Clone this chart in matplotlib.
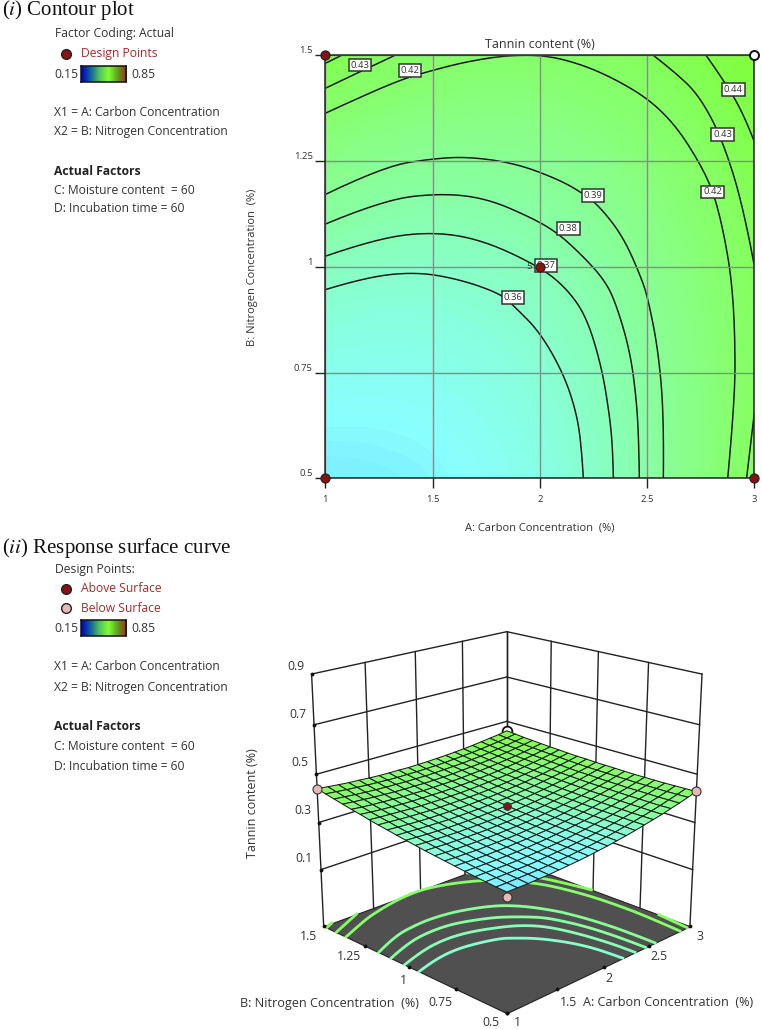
import numpy as np
import matplotlib
matplotlib.use('Agg')
from matplotlib import pyplot as plt
from matplotlib.colors import LinearSegmentedColormap, Normalize

plt.rcParams['font.family'] = ['Open Sans', 'DejaVu Sans']
plt.rcParams['mathtext.fontset'] = 'stix'

carbon = [1 + 0.1 * i for i in range(21)]
nitrogen = [0.5 + 0.05 * i for i in range(21)]
carbon_ticks = [1, 1.5, 2, 2.5, 3]
nitrogen_ticks = [0.5, 0.75, 1, 1.25, 1.5]
nitrogen_ticklabels = ['0.5', '0.75', '1', '1.25', '1.5']
tannin_ticks = [0.1, 0.3, 0.5, 0.7, 0.9]
tannin_floor = -0.147

# tannin content x1000, one row per nitrogen value, one column per carbon value
tannin_table = [
    [319, 319, 319, 321, 322, 325, 328, 331, 335, 340, 345, 351, 357, 364, 372, 380, 388, 398, 407, 418, 429],
    [322, 322, 323, 324, 325, 327, 330, 333, 337, 341, 346, 352, 358, 365, 372, 380, 388, 397, 407, 417, 428],
    [326, 326, 326, 327, 328, 330, 333, 336, 339, 343, 348, 353, 359, 366, 373, 380, 389, 397, 406, 416, 427],
    [330, 330, 330, 330, 331, 333, 335, 338, 341, 345, 350, 355, 361, 367, 374, 381, 389, 398, 407, 416, 426],
    [335, 334, 334, 334, 335, 336, 338, 341, 344, 348, 352, 357, 362, 368, 375, 382, 390, 398, 407, 416, 426],
    [340, 339, 338, 338, 339, 340, 342, 344, 347, 350, 354, 359, 364, 370, 376, 383, 391, 399, 407, 416, 426],
    [345, 343, 343, 342, 343, 344, 345, 347, 350, 353, 357, 361, 366, 372, 378, 385, 392, 400, 408, 417, 426],
    [350, 348, 347, 347, 347, 348, 349, 351, 353, 356, 360, 364, 369, 374, 380, 386, 393, 401, 409, 418, 427],
    [355, 354, 352, 352, 352, 352, 353, 355, 357, 360, 363, 367, 371, 377, 382, 388, 395, 402, 410, 419, 428],
    [361, 359, 358, 357, 356, 357, 358, 359, 361, 363, 366, 370, 374, 379, 385, 390, 397, 404, 412, 420, 429],
    [367, 365, 363, 362, 361, 361, 362, 363, 365, 367, 370, 373, 377, 382, 387, 393, 399, 406, 413, 421, 430],
    [373, 371, 369, 368, 367, 366, 367, 368, 369, 371, 374, 377, 381, 385, 390, 396, 402, 408, 415, 423, 432],
    [380, 377, 375, 373, 372, 372, 372, 373, 374, 376, 378, 381, 385, 389, 393, 399, 404, 411, 418, 425, 433],
    [386, 384, 381, 379, 378, 377, 377, 378, 379, 380, 382, 385, 388, 392, 397, 402, 407, 414, 420, 428, 435],
    [393, 390, 388, 386, 384, 383, 383, 383, 384, 385, 387, 390, 393, 396, 400, 405, 411, 417, 423, 430, 438],
    [401, 397, 394, 392, 390, 389, 389, 389, 389, 390, 392, 394, 397, 400, 404, 409, 414, 420, 426, 433, 440],
    [408, 404, 401, 399, 397, 395, 395, 394, 395, 396, 397, 399, 402, 405, 409, 413, 418, 423, 429, 436, 443],
    [416, 412, 409, 406, 404, 402, 401, 401, 400, 401, 402, 404, 407, 410, 413, 417, 422, 427, 433, 439, 446],
    [424, 420, 416, 413, 411, 409, 408, 407, 407, 407, 408, 410, 412, 414, 418, 421, 426, 431, 436, 443, 449],
    [432, 428, 424, 421, 418, 416, 414, 413, 413, 413, 414, 415, 417, 420, 423, 426, 430, 435, 440, 446, 453],
    [441, 436, 432, 428, 426, 423, 421, 420, 420, 419, 420, 421, 423, 425, 428, 431, 435, 440, 445, 450, 457],
]

# contour lines, (carbon, nitrogen) pairs
c36_a = [1, 1.193, 1.426, 1.628, 1.814, 1.876, 2.0, 2.11, 2.172, 2.195, 2.203]
c36_b = [0.946, 0.976, 0.988, 0.970, 0.937, 0.909, 0.846, 0.748, 0.654, 0.57, 0.5]
c37_a = [1, 1.239, 1.503, 1.736, 2.0, 2.125, 2.218, 2.288, 2.325, 2.34, 2.343]
c37_b = [1.025, 1.067, 1.083, 1.063, 1.0, 0.949, 0.882, 0.764, 0.65, 0.57, 0.5]
c38_a = [1, 1.27, 1.535, 1.752, 1.97, 2.086, 2.203, 2.296, 2.35, 2.42, 2.451, 2.462, 2.464]
c38_b = [1.101, 1.158, 1.174, 1.162, 1.114, 1.079, 1.024, 0.972, 0.921, 0.803, 0.685, 0.58, 0.5]
c39_a = [1, 1.27, 1.503, 1.674, 1.892, 2.094, 2.203, 2.28, 2.389, 2.475, 2.506, 2.552, 2.579, 2.576]
c39_b = [1.171, 1.237, 1.256, 1.26, 1.244, 1.205, 1.173, 1.142, 1.071, 0.972, 0.921, 0.803, 0.646, 0.5]
c42_a = [1, 1.115, 1.348, 1.503, 1.659, 1.845, 2.032, 2.203, 2.358, 2.514, 2.638, 2.747, 2.809, 2.855, 2.894, 2.91, 2.91, 2.876]
c42_b = [1.363, 1.39, 1.442, 1.465, 1.485, 1.5, 1.5, 1.477, 1.442, 1.394, 1.331, 1.244, 1.177, 1.087, 0.972, 0.843, 0.685, 0.5]
c43_left_a = [1, 1.115, 1.325]
c43_left_b = [1.422, 1.45, 1.5]
c43_right_a = [2.529, 2.638, 2.747, 2.852, 2.949, 2.998]
c43_right_b = [1.5, 1.457, 1.402, 1.3, 1.142, 1.008]
c43_low_a = [3, 2.964]
c43_low_b = [0.654, 0.5]
c44_left_a = [1, 1.076]
c44_left_b = [1.481, 1.5]
c44_right_a = [2.775, 2.856, 2.949, 3.0]
c44_right_b = [1.5, 1.442, 1.363, 1.296]

contours = [
    (c36_a, c36_b, 0.36), (c37_a, c37_b, 0.37), (c38_a, c38_b, 0.38), (c39_a, c39_b, 0.39),
    (c42_a, c42_b, 0.42), (c43_left_a, c43_left_b, 0.43), (c43_right_a, c43_right_b, 0.43),
    (c43_low_a, c43_low_b, 0.43), (c44_left_a, c44_left_b, 0.44), (c44_right_a, c44_right_b, 0.44),
]

label_text = ['0.43', '0.42', '0.39', '0.38', '0.37', '0.36', '0.44', '0.43', '0.42']
label_a = [1.162, 1.395, 2.249, 2.133, 2.03, 1.876, 2.902, 2.852, 2.806]
label_b = [1.477, 1.464, 1.168, 1.09, 1.003, 0.928, 1.42, 1.312, 1.177]

# design points
dp_a = [1, 1, 3, 2]
dp_b = [1.5, 0.5, 0.5, 1]
dp_z = [0.44, 0.30, 0.43, 0.37]
dp_3d_colors = ['#e8b8b8', '#e8b8b8', '#e8b8b8', '#8b1010']
dp_white = (3, 1.5, 0.458)

RED = '#8b1010'
INK = '#333333'
surface_cmap = LinearSegmentedColormap.from_list('surface', [
    (0, '#0000c8'), (0.235, '#78e8ff'), (0.255, '#88ffff'), (0.29, '#88ffd8'), (0.33, '#88ffa0'),
    (0.37, '#88ff78'), (0.43, '#80ff40'), (0.6, '#80c030'), (1, '#a02010')])
norm = Normalize(0.15, 0.85)
legend_cmap = LinearSegmentedColormap.from_list('legend', [
    '#0000c0', '#1060a0', '#50c060', '#80ff30', '#60a020', '#a03010'])

W, H = 762, 1029
fig = plt.figure(figsize=(W / 100, H / 100), dpi=100)


def put(px, py, s, **kw):
    kw.setdefault('fontsize', 8.7)
    kw.setdefault('color', INK)
    kw.setdefault('va', 'center')
    return fig.text(px / W, 1 - py / H, s, **kw)


def box(x0, y0, x1, y1):
    return [x0 / W, 1 - y1 / H, (x1 - x0) / W, (y1 - y0) / H]


def rounded(xs, ys, steps=8):
    # quadratic bezier through midpoints so the read points do not show as corners
    pts = np.column_stack([xs, ys])
    if len(pts) < 3:
        return pts[:, 0], pts[:, 1]
    mids = (pts[:-1] + pts[1:]) / 2
    mids[0], mids[-1] = pts[0], pts[-1]
    t = np.linspace(0, 1, steps)[:, None]
    out = [(1 - t) ** 2 * mids[i] + 2 * t * (1 - t) * pts[i + 1] + t ** 2 * mids[i + 1] for i in range(len(mids) - 1)]
    out = np.vstack(out)
    return out[:, 0], out[:, 1]


def legend_block(y_color, y_x1, y_x2, y_head, y_c, y_d):
    ax = fig.add_axes(box(81, y_color - 8, 126, y_color + 8))
    ax.imshow(np.linspace(0, 1, 60)[None, :], aspect='auto', cmap=legend_cmap)
    ax.set_xticks([])
    ax.set_yticks([])
    for s in ax.spines.values():
        s.set_linewidth(1.1)
        s.set_color('#111111')
    put(54, y_color, '0.15')
    put(131, y_color, '0.85')
    put(54, y_x1, 'X1 = A: Carbon Concentration')
    put(54, y_x2, 'X2 = B: Nitrogen Concentration')
    put(54, y_head, 'Actual Factors', fontweight='bold', color='#222222')
    put(54, y_c, 'C: Moisture content  = 60')
    put(54, y_d, 'D: Incubation time = 60')


# (i) contour plot
put(2, 10, r'($\mathit{i}$) Contour plot', family='Liberation Serif', fontsize=15, color='#111111')
put(55, 34, 'Factor Coding: Actual')
put(81, 54, 'Design Points', color='#a52a2a')
legend_block(74, 113, 132, 171, 190, 209)

ax = fig.add_axes(box(325.3, 55.3, 754.3, 478.3))
ax.imshow(np.array(tannin_table) / 1000, origin='lower', cmap=surface_cmap, norm=norm, aspect='auto',
          interpolation='bicubic', extent=(0.95, 3.05, 0.475, 1.525), zorder=0)
ax.set_xlim(1, 3)
ax.set_ylim(0.5, 1.5)
ax.set_xticks(carbon_ticks, [str(v) for v in carbon_ticks])
ax.set_yticks(nitrogen_ticks, nitrogen_ticklabels)
ax.tick_params(length=7, width=1, labelsize=6.8, color='#222222', labelcolor=INK, pad=2)
ax.tick_params(axis='x', pad=5)
for t in ax.get_yticklabels():
    t.set_va('bottom')
ax.grid(color='#8a8a8a', lw=1, zorder=1)
ax.set_axisbelow(False)
for s in ax.spines.values():
    s.set_linewidth(1.1)
    s.set_color('#222222')
    s.set_zorder(3)
for xs, ys, level in contours:
    ax.plot(*rounded(xs, ys), color='#111111', lw=1.05, zorder=2)
for s, a, b in zip(label_text, label_a, label_b):
    ax.text(a, b, s, fontsize=6.8, ha='center', va='center', color=INK, zorder=4,
            bbox=dict(boxstyle='square,pad=0.2', fc='white', ec='#333333', lw=1.1))
ax.text(1.95, 1.0, '5', fontsize=6.8, ha='center', va='center', color=INK, zorder=4)
ax.plot(dp_a, dp_b, 'o', ms=6.5, mfc=RED, mec='#222222', mew=0.9, zorder=5, clip_on=False)
ax.plot(dp_white[0], dp_white[1], 'o', ms=6.5, mfc='white', mec='#111111', mew=1.4, zorder=5, clip_on=False)

put(540, 44, 'Tannin content (%)', ha='center', fontsize=9)
put(540, 528, 'A: Carbon Concentration  (%)', ha='center', fontsize=8)
put(253, 267, 'B: Nitrogen Concentration  (%)', ha='center', rotation=90, fontsize=8)

# legend dot, drawn in a full figure overlay
over = fig.add_axes([0, 0, 1, 1], facecolor='none')
over.set_xlim(0, W)
over.set_ylim(H, 0)
over.axis('off')
over.plot([66], [54], 'o', ms=7, mfc=RED, mec='#222222', mew=1)
over.plot([66], [589], 'o', ms=7, mfc=RED, mec='#222222', mew=1)
over.plot([66], [608], 'o', ms=7, mfc='#e8b8b8', mec='#222222', mew=1)

# (ii) response surface
put(2, 548, r'($\mathit{ii}$) Response surface curve', family='Liberation Serif', fontsize=15, color='#111111')
put(55, 569, 'Design Points:')
put(81, 589, 'Above Surface', color='#a52a2a')
put(81, 608, 'Below Surface', color='#a52a2a')
legend_block(628, 667, 688, 726, 747, 766)

ax3 = fig.add_axes(box(214, 595, 788, 1025), projection='3d', computed_zorder=False)
ax3.set_axis_off()
ax3.patch.set_alpha(0)
ax3.view_init(elev=19.5, azim=-135)
ax3.set_proj_type('persp', focal_length=0.6)
ax3.set_box_aspect((1, 1, 1.0), zoom=1.045)
ax3.set_xlim(1, 3)
ax3.set_ylim(0.5, 1.5)
ax3.set_zlim(tannin_floor, 0.9)

LINE = dict(color='#222222', lw=1.0, zorder=1)
for a in carbon_ticks:
    ax3.plot([a, a], [1.5, 1.5], [tannin_floor, 0.9], **LINE)
for b in nitrogen_ticks:
    ax3.plot([3, 3], [b, b], [tannin_floor, 0.9], **LINE)
for z in tannin_ticks:
    ax3.plot([1, 3], [1.5, 1.5], [z, z], **LINE)
    ax3.plot([3, 3], [0.5, 1.5], [z, z], **LINE)
ax3.plot([1] * 5, [1.5] * 5, tannin_ticks, '.', color='#111111', ms=3.5, zorder=1)

A, B = np.meshgrid(carbon, nitrogen)
Z = np.array(tannin_table) / 1000
ax3.plot_surface(A[[0, -1]][:, [0, -1]], B[[0, -1]][:, [0, -1]], np.full((2, 2), tannin_floor),
                 color='#505050', shade=False, zorder=2, edgecolor='#222222', lw=0.8)
for xs, ys, level in contours:
    rx, ry = rounded(xs, ys)
    ax3.plot(rx, ry, np.full_like(rx, tannin_floor), color=surface_cmap(norm(level)), lw=2, zorder=3)
ax3.plot(carbon_ticks, [0.5] * 5, [tannin_floor] * 5, '.', color='#111111', ms=3.5, zorder=3)
ax3.plot([1] * 5, nitrogen_ticks, [tannin_floor] * 5, '.', color='#111111', ms=3.5, zorder=3)
ax3.plot(*[[v] for v in dp_white], 'o', ms=7, mfc='white', mec='#111111', mew=1.3, zorder=3)
ax3.plot_surface(A, B, Z, rstride=1, cstride=1, facecolors=surface_cmap(norm(Z)), shade=False,
                 edgecolor='#1c1c1c', lw=0.75, zorder=4)
for a, b, z, c in zip(dp_a, dp_b, dp_z, dp_3d_colors):
    ms = 5.5 if c == RED else 6.5
    ax3.plot([a], [b], [z], 'o', ms=ms, mfc=c, mec='#333333', mew=0.8, zorder=5)

for v, x, y in zip(tannin_ticks, [304, 303, 300, 298, 296], [859, 811, 763, 714, 667]):
    put(x, y, str(v), ha='center', fontsize=8.8)
put(252, 803, 'Tannin content (%)', rotation=90, ha='center', fontsize=9)
for s, x, y in zip(['1.5', '1.25', '1', '0.75', '0.5'], [308, 349, 403, 440, 491], [936, 957, 980, 1002, 1023]):
    put(x, y, s, ha='center', fontsize=8.8)
for s, x, y in zip(['3', '2.5', '2', '1.5', '1'], [700, 659, 609, 568, 517], [936, 957, 979, 1002, 1023]):
    put(x, y, s, ha='center', fontsize=8.8)
put(329, 1003, 'B: Nitrogen Concentration  (%)', ha='center', fontsize=9.1)
put(668, 1003, 'A: Carbon Concentration  (%)', ha='center', fontsize=9.1)

fig.savefig('out.png', dpi=100)
plt.close(fig)
